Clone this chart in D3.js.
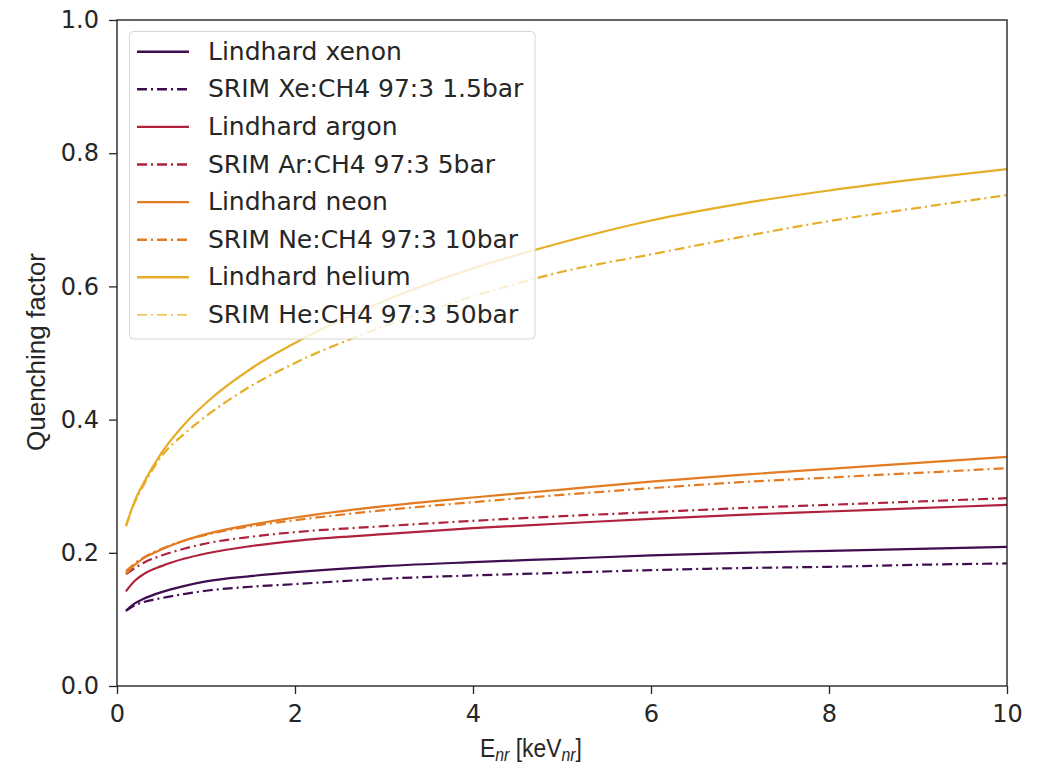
<!DOCTYPE html>
<html>
<head>
<meta charset="utf-8">
<script src="https://cdn.jsdelivr.net/npm/d3@7"></script>
<style>
  html, body { margin: 0; padding: 0; background: #fff; }
  svg { display: block; font-family: "DejaVu Sans", sans-serif; }
</style>
</head>
<body>
<svg id="chart" width="1053" height="769"></svg>
<script>
// Recoil energies (keV_nr) at which the quenching factors are tabulated
const energy = [0.1, 0.2, 0.3, 0.5, 0.75, 1, 1.5, 2, 3, 4, 5, 6, 7, 8, 9, 10];

// Quenching factors per gas
const lindhardXenon = [0.113, 0.124, 0.131, 0.141, 0.150, 0.157, 0.165, 0.171, 0.180, 0.186, 0.191, 0.196, 0.200, 0.203, 0.206, 0.209];
const srimXenon     = [0.113, 0.121, 0.126, 0.132, 0.138, 0.143, 0.149, 0.153, 0.161, 0.166, 0.170, 0.174, 0.177, 0.179, 0.182, 0.184];
const lindhardArgon = [0.142, 0.158, 0.168, 0.180, 0.191, 0.199, 0.210, 0.218, 0.228, 0.237, 0.244, 0.251, 0.257, 0.262, 0.267, 0.272];
const srimArgon     = [0.168, 0.177, 0.185, 0.196, 0.206, 0.214, 0.224, 0.231, 0.240, 0.248, 0.255, 0.261, 0.267, 0.272, 0.277, 0.282];
const lindhardNeon  = [0.168, 0.182, 0.192, 0.205, 0.218, 0.228, 0.242, 0.253, 0.270, 0.283, 0.295, 0.307, 0.317, 0.326, 0.335, 0.344];
const srimNeon      = [0.172, 0.184, 0.193, 0.206, 0.218, 0.227, 0.240, 0.249, 0.264, 0.276, 0.287, 0.297, 0.306, 0.313, 0.320, 0.327];
const lindhardHelium = [0.240, 0.278, 0.305, 0.350, 0.392, 0.425, 0.476, 0.515, 0.578, 0.627, 0.666, 0.699, 0.724, 0.744, 0.761, 0.776];
const srimHelium     = [0.240, 0.276, 0.302, 0.345, 0.378, 0.405, 0.450, 0.485, 0.540, 0.585, 0.622, 0.648, 0.674, 0.698, 0.718, 0.737];

const seriesLabels = [
  "Lindhard xenon", "SRIM Xe:CH4 97:3 1.5bar",
  "Lindhard argon", "SRIM Ar:CH4 97:3 5bar",
  "Lindhard neon", "SRIM Ne:CH4 97:3 10bar",
  "Lindhard helium", "SRIM He:CH4 97:3 50bar"
];
const seriesValues = [lindhardXenon, srimXenon, lindhardArgon, srimArgon,
                      lindhardNeon, srimNeon, lindhardHelium, srimHelium];
const seriesColors = ["#3f0d50", "#3f0d50", "#b0223c", "#b0223c",
                      "#e37b22", "#e37b22", "#e6ae26", "#e6ae26"];
const seriesDashed = [false, true, false, true, false, true, false, true];

const xTicks = [0, 2, 4, 6, 8, 10];
const yTicks = [0.0, 0.2, 0.4, 0.6, 0.8, 1.0];

const svg = d3.select("#chart");
const margin = { left: 117, right: 46, top: 20, bottom: 83 };
const W = 1053, H = 769;

const x = d3.scaleLinear().domain([0, 10]).range([margin.left, W - margin.right]);
const y = d3.scaleLinear().domain([0, 1]).range([H - margin.bottom, margin.top]);

const dashPattern = "10,4,2,4";
const textColor = "#262626";

// curves
const line = d3.line()
  .x((d, i) => x(energy[i]))
  .y(d => y(d))
  .curve(d3.curveMonotoneX);

const plot = svg.append("g");
seriesValues.forEach((vals, k) => {
  plot.append("path")
    .datum(vals)
    .attr("d", line)
    .attr("fill", "none")
    .attr("stroke", seriesColors[k])
    .attr("stroke-width", 2.2)
    .attr("stroke-dasharray", seriesDashed[k] ? dashPattern : null)
    .attr("stroke-linejoin", "round");
});

// axes
const xAxis = svg.append("g")
  .attr("transform", `translate(0,${y(0)})`)
  .call(d3.axisBottom(x).tickValues(xTicks).tickFormat(d3.format("d")).tickSizeOuter(0).tickSize(8).tickPadding(11));
const yAxis = svg.append("g")
  .attr("transform", `translate(${x(0)},0)`)
  .call(d3.axisLeft(y).tickValues(yTicks).tickFormat(d3.format(".1f")).tickSizeOuter(0).tickSize(8).tickPadding(10));

[xAxis, yAxis].forEach(a => {
  a.select(".domain").remove();
  a.selectAll(".tick line").attr("stroke", textColor).attr("stroke-width", 1.3);
  a.selectAll(".tick text").attr("fill", textColor).style("font-size", "24px").style("font-family", "DejaVu Sans, sans-serif");
});

// frame
svg.append("rect")
  .attr("x", x(0)).attr("y", y(1))
  .attr("width", x(10) - x(0)).attr("height", y(0) - y(1))
  .attr("fill", "none").attr("stroke", textColor).attr("stroke-width", 1.4);

// axis titles
const xt = svg.append("g")
  .attr("transform", "translate(531,757) scale(0.88,1)")
  .append("text")
  .attr("text-anchor", "middle")
  .attr("fill", textColor)
  .style("font-family", "Liberation Sans, Arial, sans-serif")
  .style("font-size", "26px");
xt.append("tspan").text("E");
xt.append("tspan").text("nr").style("font-style", "italic").style("font-size", "18px").attr("dy", 4);
xt.append("tspan").text(" [keV").attr("dy", -4);
xt.append("tspan").text("nr").style("font-style", "italic").style("font-size", "18px").attr("dy", 4);
xt.append("tspan").text("]").attr("dy", -4);

svg.append("text")
  .attr("transform", `translate(45,352) rotate(-90)`)
  .attr("text-anchor", "middle")
  .attr("fill", textColor)
  .style("font-family", "Liberation Sans, Arial, sans-serif")
  .style("font-size", "26px")
  .text("Quenching factor");

// legend
const legend = svg.append("g");
legend.append("rect")
  .attr("x", 129.5).attr("y", 31.5).attr("width", 405.5).attr("height", 307.5)
  .attr("rx", 4).attr("ry", 4)
  .attr("fill", "#fff").attr("fill-opacity", 0.8)
  .attr("stroke", "#d6d6d6").attr("stroke-width", 1);

seriesLabels.forEach((lab, k) => {
  const cy = 51.7 + k * 37.6;
  legend.append("line")
    .attr("x1", 137).attr("x2", 189).attr("y1", cy).attr("y2", cy)
    .attr("stroke", seriesColors[k])
    .attr("stroke-width", k === 7 ? 1.2 : 2.4)
    .attr("stroke-dasharray", seriesDashed[k] ? dashPattern : null);
  legend.append("text")
    .attr("x", 208).attr("y", cy + 8)
    .attr("fill", textColor)
    .style("font-size", "25px")
    .text(lab);
});
</script>
</body>
</html>
